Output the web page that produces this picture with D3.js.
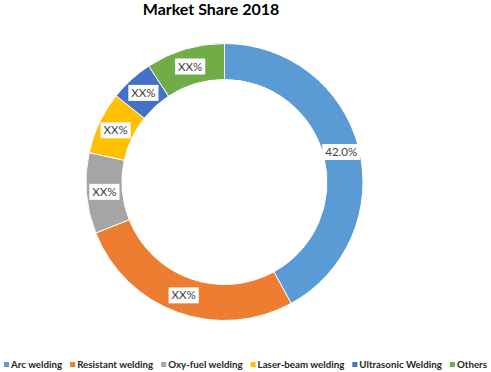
<!DOCTYPE html>
<html>
<head>
<meta charset="utf-8">
<script src="https://cdn.jsdelivr.net/npm/d3@7"></script>
<style>
  body { margin: 0; background: #fff; }
  svg { display: block; font-family: Lato, "Open Sans", sans-serif; }
</style>
</head>
<body>
<div id="chart"></div>
<script>
// chart data
const categories = ["Arc welding", "Resistant welding", "Oxy-fuel welding", "Laser-beam welding", "Ultrasonic Welding", "Others"];
const shares = [42.0, 27.0, 9.4, 7.3, 5.1, 9.2];
const labels = ["42.0%", "XX%", "XX%", "XX%", "XX%", "XX%"];
const colors = ["#5B9BD5", "#ED7D31", "#A5A5A5", "#FFC000", "#4472C4", "#70AD47"];

const width = 491, height = 372;
const cx = 224.5, cy = 182;
const outerR = 138.5, innerR = 102.5;

const svg = d3.select("#chart").append("svg")
    .attr("width", width)
    .attr("height", height);

// title
svg.append("text")
    .attr("x", 211)
    .attr("y", 15)
    .attr("text-anchor", "middle")
    .attr("font-size", 16)
    .attr("font-weight", "bold")
    .attr("fill", "#000")
    .text("Market Share 2018");

const data = categories.map((c, i) => ({ name: c, value: shares[i], label: labels[i], color: colors[i] }));

const pie = d3.pie().sort(null).value(d => d.value);
const arc = d3.arc().innerRadius(innerR).outerRadius(outerR);
const labelArc = d3.arc().innerRadius((innerR + outerR) / 2).outerRadius((innerR + outerR) / 2);

const g = svg.append("g").attr("transform", `translate(${cx},${cy})`);

const arcs = pie(data);

g.selectAll("path")
    .data(arcs)
    .enter().append("path")
    .attr("d", arc)
    .attr("fill", d => d.data.color)
    .attr("stroke", "#fff")
    .attr("stroke-width", 1);

// data labels in white boxes
const lab = g.selectAll("g.lab")
    .data(arcs)
    .enter().append("g")
    .attr("class", "lab")
    .attr("transform", d => `translate(${labelArc.centroid(d)})`);

lab.append("rect").attr("fill", "#fff");
lab.append("text")
    .attr("text-anchor", "middle")
    .attr("dy", "0.35em")
    .attr("font-size", 11.5)
    .attr("fill", "#404040")
    .text(d => d.data.label);

lab.each(function () {
    const t = d3.select(this).select("text").node();
    const w = t.getComputedTextLength();
    d3.select(this).select("rect")
        .attr("x", -w / 2 - 3)
        .attr("y", -8)
        .attr("width", w + 6)
        .attr("height", 16);
});

// legend
const legend = svg.append("g");
const items = legend.selectAll("g")
    .data(data)
    .enter().append("g");

items.append("rect")
    .attr("width", 5)
    .attr("height", 5)
    .attr("y", -6)
    .attr("fill", d => d.color);

const legendText = items.append("text")
    .attr("x", 7)
    .attr("font-weight", "bold")
    .attr("fill", "#262626")
    .text(d => d.name);

const gap = 8;
let fs = 11, widths, total;
do {
    legendText.attr("font-size", fs);
    widths = [];
    items.each(function () {
        widths.push(7 + d3.select(this).select("text").node().getComputedTextLength());
    });
    total = d3.sum(widths) + gap * (widths.length - 1);
    fs -= 0.25;
} while (total > 485 && fs > 7);

let x = (width - total) / 2;
items.each(function (d, i) {
    d3.select(this).attr("transform", `translate(${x},368)`);
    x += widths[i] + gap;
});
</script>
</body>
</html>
